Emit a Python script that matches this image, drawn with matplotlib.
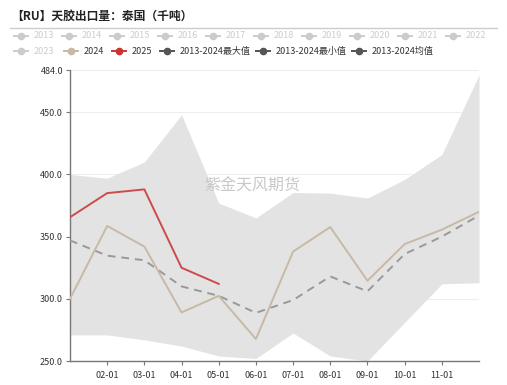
import matplotlib
matplotlib.use("Agg")
import matplotlib.pyplot as plt
from matplotlib.lines import Line2D

plt.rcParams["font.family"] = ["Noto Sans CJK SC", "DejaVu Sans"]

# data (thousand tonnes)
months = list(range(1, 13))
tick_months = list(range(2, 12))
tick_labels = [f"{m:02d}-01" for m in tick_months]

band_max = [400, 397, 410, 448, 377, 365, 385.5, 385, 381, 396, 416, 480]
band_min = [271, 271, 267, 262, 254, 252, 272.5, 254, 250, 281, 312, 313]
mean_12_24 = [347, 334.7, 331, 310, 302.4, 288.7, 299, 318, 306, 336, 350, 367]
y2024 = [300, 358.6, 342, 289, 302.4, 267.7, 338, 357.7, 314.5, 344, 355.6, 370]
y2025 = [365.6, 385, 388, 325, 312]

title = "【RU】天胶出口量：泰国（千吨）"
legend_row1 = ["2013", "2014", "2015", "2016", "2017", "2018", "2019", "2020", "2021", "2022"]
legend_row2 = ["2023", "2024", "2025", "2013-2024最大值", "2013-2024最小值", "2013-2024均值"]

W, H = 507, 385
fig = plt.figure(figsize=(W / 100, H / 100), dpi=100)
ax = fig.add_axes([70 / W, 1 - 361 / H, (479 - 70) / W, (361 - 70) / H])

ax.fill_between(months, band_min, band_max, color="#e3e3e3", linewidth=0, zorder=1)
ax.plot(months, mean_12_24, color="#999999", lw=1.4, ls=(0, (4, 3)), zorder=3)
ax.plot(months, y2024, color="#c8b9a6", lw=1.4, zorder=4)
ax.plot(months[:len(y2025)], y2025, color="#cc4b4b", lw=1.4, zorder=5)

ax.set_xlim(1, 12)
ax.set_ylim(250, 484)
ax.set_yticks([250, 300, 350, 400, 450, 484])
ax.set_yticklabels([f"{v:.1f}" for v in [250, 300, 350, 400, 450, 484]])
ax.set_xticks(tick_months)
ax.set_xticklabels(tick_labels)
ax.grid(axis="y", color="#eeeeee", lw=0.8, zorder=0)
ax.set_axisbelow(True)
for s in ["top", "right"]:
    ax.spines[s].set_visible(False)
for s in ["left", "bottom"]:
    ax.spines[s].set_color("#777777")
    ax.spines[s].set_linewidth(1)
ax.tick_params(axis="both", colors="#777777", labelcolor="#333333", labelsize=6.5,
               length=3, width=0.8, pad=2)
ax.tick_params(axis="x", pad=4)

ax.text(0.445, 0.60, "紫金天风期货", transform=ax.transAxes, ha="center", va="center",
        fontsize=11.5, color="#c8c8c8", zorder=6)

# title and separator
fig.text(11 / W, 1 - 16 / H, title, fontsize=8.5, fontweight="bold", color="#222222",
         ha="left", va="center")
fig.add_artist(Line2D([10 / W, 497 / W], [1 - 28 / H, 1 - 28 / H], color="#cccccc", lw=1))

# legend drawn by hand
def legend_item(xc, yc, label, color, text_color):
    y = 1 - yc / H
    fig.add_artist(Line2D([(xc - 7) / W, (xc + 7) / W], [y, y], color=color, lw=1.4))
    fig.add_artist(Line2D([xc / W], [y], marker="o", ms=4.5, color=color))
    fig.text((xc + 13) / W, y, label, fontsize=6.5, color=text_color, ha="left", va="center")

grey = "#cccccc"
for i, lab in enumerate(legend_row1):
    legend_item(21 + i * 48, 36, lab, grey, grey)

row2_x = [21, 71, 119, 167, 263, 359]
row2_col = [grey, "#c8b9a6", "#cc3333", "#555555", "#555555", "#555555"]
row2_txt = [grey, "#333333", "#333333", "#333333", "#333333", "#333333"]
for xc, lab, c, tc in zip(row2_x, legend_row2, row2_col, row2_txt):
    legend_item(xc, 51, lab, c, tc)

fig.savefig("out.png", dpi=100)
